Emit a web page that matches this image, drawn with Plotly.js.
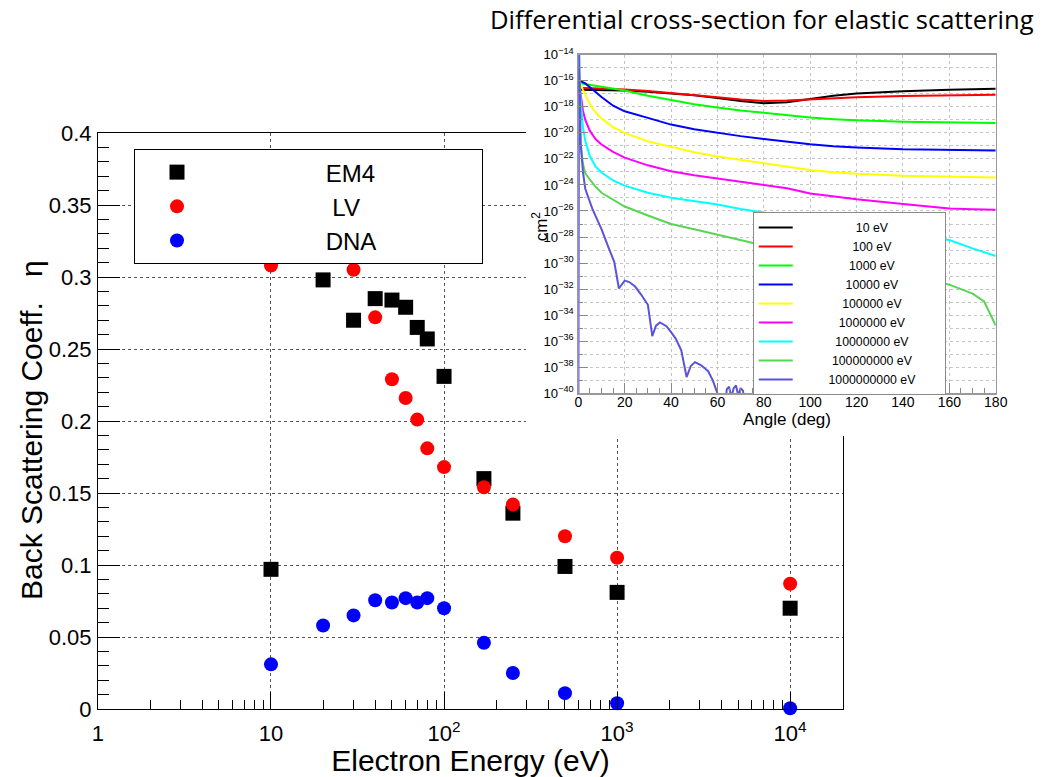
<!DOCTYPE html>
<html>
<head>
<meta charset="utf-8">
<script src="https://cdn.plot.ly/plotly-3.0.1.min.js"></script>
<style>
  html, body { margin: 0; padding: 0; background: #ffffff; }
  #chart { width: 1042px; height: 777px; }
</style>
</head>
<body>
<div id="chart"></div>
<script>
// ---------------- Main plot data: back scattering coefficient ----------------
const energyEM4 = [10, 20, 30, 40, 50, 60, 70, 80, 100, 170, 250, 500, 1000, 10000];
const etaEM4    = [0.097, 0.298, 0.270, 0.285, 0.284, 0.279, 0.265, 0.257, 0.231, 0.160, 0.136, 0.099, 0.081, 0.070];

const energyLV  = [10, 30, 40, 50, 60, 70, 80, 100, 170, 250, 500, 1000, 10000];
const etaLV     = [0.308, 0.305, 0.272, 0.229, 0.216, 0.201, 0.181, 0.168, 0.154, 0.142, 0.120, 0.105, 0.087];

const energyDNA = [10, 20, 30, 40, 50, 60, 70, 80, 100, 170, 250, 500, 1000, 10000];
const etaDNA    = [0.031, 0.058, 0.065, 0.0755, 0.074, 0.077, 0.074, 0.077, 0.070, 0.046, 0.025, 0.011, 0.004, 0.0005];

const mainTickVals = [1, 10, 100, 1000, 10000];
const mainTickText = ['1', '10', '10<sup>2</sup>', '10<sup>3</sup>', '10<sup>4</sup>'];

// ---------------- Inset data: differential cross-section (cm^2) vs angle ----------------
const angle = [0, 0.5, 1, 2, 3, 5, 7.5, 10, 15, 20, 30, 40, 50, 60, 70, 80, 90, 100, 110, 120, 140, 160, 170, 175, 180];

const dcs10eV = [2.0e-17, 2.0e-17, 2.0e-17, 2.0e-17, 2.0e-17, 2.0e-17, 2.0e-17, 1.9e-17, 1.86e-17, 1.78e-17, 1.41e-17, 1.07e-17, 7.6e-18, 4.8e-18, 2.8e-18, 1.9e-18, 2.2e-18, 4.0e-18, 7.1e-18, 1.07e-17, 1.58e-17, 2.0e-17, 2.2e-17, 2.3e-17, 2.4e-17];
const dcs100eV = [3.5e-17, 3.2e-17, 3.0e-17, 2.8e-17, 2.75e-17, 2.7e-17, 2.6e-17, 2.5e-17, 2.3e-17, 2.1e-17, 1.6e-17, 1.17e-17, 8.3e-18, 5.5e-18, 3.6e-18, 2.8e-18, 3.0e-18, 3.8e-18, 4.7e-18, 5.5e-18, 6.6e-18, 7.6e-18, 7.9e-18, 8.1e-18, 8.3e-18];
const dcs1keV = [7.9e-17, 7.1e-17, 6.3e-17, 6.0e-17, 5.6e-17, 4.9e-17, 4.3e-17, 3.6e-17, 2.6e-17, 1.8e-17, 7.1e-18, 3.2e-18, 1.6e-18, 8.9e-19, 5.2e-19, 3.5e-19, 2.2e-19, 1.5e-19, 1.12e-19, 9.1e-20, 7.1e-20, 6.0e-20, 5.8e-20, 5.6e-20, 5.6e-20];
const dcs10keV = [1.12e-16, 1.0e-16, 8.9e-17, 7.9e-17, 6.3e-17, 3.2e-17, 1.26e-17, 5.6e-18, 1.2e-18, 4.5e-19, 1.41e-19, 4.3e-20, 1.9e-20, 1.0e-20, 5.6e-21, 3.4e-21, 2.1e-21, 1.32e-21, 9.5e-22, 7.6e-22, 5.6e-22, 4.8e-22, 4.6e-22, 4.5e-22, 4.5e-22];
const dcs100keV = [1.41e-16, 1.0e-16, 5.6e-17, 2.0e-17, 7.9e-18, 1.58e-18, 3.5e-19, 1.26e-19, 2.8e-20, 1.0e-20, 2.2e-21, 7.9e-22, 3.2e-22, 1.51e-22, 8.3e-23, 4.7e-23, 2.5e-23, 1.41e-23, 9.5e-24, 7.1e-24, 5.0e-24, 4.2e-24, 3.9e-24, 3.8e-24, 3.7e-24];
const dcs1MeV = [1.78e-16, 4.0e-17, 7.9e-18, 5.0e-19, 1.0e-19, 1.41e-20, 3.2e-21, 1.26e-21, 3.5e-22, 1.26e-22, 3.2e-23, 1.12e-23, 5.6e-24, 3.2e-24, 1.78e-24, 1.07e-24, 5.6e-25, 2.2e-25, 1.26e-25, 7.9e-26, 3.5e-26, 1.58e-26, 1.38e-26, 1.32e-26, 1.26e-26];
const dcs10MeV = [1.0e-14, 1.58e-16, 3.2e-18, 2.5e-20, 2.5e-21, 1.58e-22, 2.5e-23, 8.9e-24, 2.2e-24, 8.9e-25, 2.5e-25, 1.05e-25, 5.6e-26, 3.2e-26, 1.41e-26, 7.9e-27, 4.0e-27, 2.0e-27, 1.12e-27, 6.3e-28, 2.0e-28, 5.9e-29, 1.35e-29, 7.1e-30, 3.5e-30];
const dcs100MeV = [1.0e-15, 1.58e-19, 1.58e-21, 4.0e-23, 7.9e-24, 2.5e-24, 7.1e-25, 2.5e-25, 7.1e-26, 2.2e-26, 4.5e-27, 1.0e-27, 4.0e-28, 1.58e-28, 5.6e-29, 2.2e-29, 1.0e-29, 4.5e-30, 2.0e-30, 8.9e-31, 1.58e-31, 2.2e-32, 4.5e-33, 1.12e-33, 1.58e-35];

const angle1GeV = [0, 0.3, 1, 2, 3, 4.5, 6, 8, 10, 13, 15.5, 17.5, 20, 22, 24.5, 27, 30, 31.9, 33.5, 35.2, 38, 40, 42, 44.4, 46.7, 48.5, 50.3, 53, 56, 58, 60, 61.5, 63, 64, 65, 66, 67, 68, 69, 70, 71, 72];
const dcs1GeV = [1.0e-45, 1.0e-13, 1.58e-21, 1.0e-23, 5.0e-25, 7.9e-26, 1.58e-26, 2.5e-27, 4.0e-28, 1.58e-29, 1.26e-30, 1.12e-32, 4.5e-32, 3.5e-32, 1.58e-32, 4.0e-33, 6.3e-34, 2.5e-36, 1.58e-35, 2.8e-35, 1.41e-35, 5.0e-36, 1.58e-36, 2.0e-37, 1.78e-39, 1.26e-38, 2.5e-38, 1.41e-38, 5.0e-39, 1.0e-39, 1.0e-40, 1.0e-41, 1.0e-42, 2.0e-40, 3.2e-40, 5.0e-41, 2.5e-40, 4.0e-40, 6.3e-41, 2.5e-40, 1.58e-40, 1.0e-41];

const insetNames = ['10 eV', '100 eV', '1000 eV', '10000 eV', '100000 eV', '1000000 eV', '10000000 eV', '100000000 eV', '1000000000 eV'];
const insetColors = ['#000000', '#ff0000', '#00ff00', '#0000ff', '#ffff00', '#ff00ff', '#00ffff', '#59d454', '#5954d9'];
const insetX = [angle, angle, angle, angle, angle, angle, angle, angle, angle1GeV];
const insetY = [dcs10eV, dcs100eV, dcs1keV, dcs10keV, dcs100keV, dcs1MeV, dcs10MeV, dcs100MeV, dcs1GeV];

// ---------------- Build traces ----------------
const FONT = 'Liberation Sans, Arial, Helvetica, sans-serif';
const NB = '\u00a0';
function pad(n) { return NB.repeat(n); }

const traces = [];
traces.push({
  type: 'scatter', mode: 'markers', name: pad(16) + 'EM4' + pad(15), legendgroup: 'a',
  x: energyEM4, y: etaEM4, xaxis: 'x', yaxis: 'y', cliponaxis: false,
  marker: { symbol: 'square', size: 15, color: '#000000' }
});
traces.push({
  type: 'scatter', mode: 'markers', name: pad(17) + 'LV' + pad(15), legendgroup: 'b',
  x: energyLV, y: etaLV, xaxis: 'x', yaxis: 'y', cliponaxis: false,
  marker: { symbol: 'circle', size: 14, color: '#ff0000' }
});
traces.push({
  type: 'scatter', mode: 'markers', name: pad(16) + 'DNA' + pad(15), legendgroup: 'c',
  x: energyDNA, y: etaDNA, xaxis: 'x', yaxis: 'y', cliponaxis: false,
  marker: { symbol: 'circle', size: 14, color: '#0000ff' }
});
// empty subplot used as the white backing of the inset figure
traces.push({ type: 'scatter', mode: 'markers', x: [], y: [], xaxis: 'x2', yaxis: 'y2', showlegend: false, hoverinfo: 'skip' });

for (let i = 0; i < insetNames.length; i++) {
  traces.push({
    type: 'scatter', mode: 'lines', name: pad(17 - i) + insetNames[i] + pad(7),
    x: insetX[i], y: insetY[i], xaxis: 'x3', yaxis: 'y3', legend: 'legend2',
    line: { color: insetColors[i], width: 2 }
  });
}

const gridDot = { showgrid: true, gridcolor: '#555555', griddash: 'dot', gridwidth: 1 };

const layout = {
  width: 1042, height: 777,
  margin: { l: 0, r: 0, t: 0, b: 0 },
  paper_bgcolor: '#ffffff', plot_bgcolor: '#ffffff',
  font: { family: FONT, color: '#000000' },
  showlegend: true,
  xaxis: Object.assign({
    type: 'log', range: [0, 4.3054], domain: [0.0940, 0.8090], anchor: 'y',
    tickmode: 'array', tickvals: mainTickVals, ticktext: mainTickText,
    ticks: 'inside', ticklen: 17, tickwidth: 1, tickcolor: '#000000',
    showline: true, linecolor: '#000000', linewidth: 1, mirror: true, zeroline: false,
    tickfont: { size: 22, family: FONT }, ticklabelstandoff: 5,
    minor: { dtick: 'D1', ticks: 'inside', ticklen: 9, tickcolor: '#000000', showgrid: false },
    title: { text: 'Electron Energy (eV)', font: { size: 30, family: FONT }, standoff: 5 }
  }, gridDot),
  yaxis: Object.assign({
    range: [0, 0.4], domain: [0.0875, 0.8288], anchor: 'x',
    tick0: 0, dtick: 0.05,
    ticks: 'inside', ticklen: 22, tickwidth: 1, tickcolor: '#000000',
    showline: true, linecolor: '#000000', linewidth: 1, mirror: true, zeroline: false,
    tickfont: { size: 22, family: FONT }, ticklabelstandoff: 1,
    minor: { dtick: 0.01, ticks: 'inside', ticklen: 11, tickcolor: '#000000', showgrid: false }
  }, gridDot),
  // invisible white backing subplot
  xaxis2: { domain: [0.5048, 1], anchor: 'y2', range: [0, 1], showgrid: false, showline: false, zeroline: false, showticklabels: false, ticks: '' },
  yaxis2: { domain: [0.4389, 1], anchor: 'x2', range: [0, 1], showgrid: false, showline: false, zeroline: false, showticklabels: false, ticks: '' },
  // inset
  xaxis3: {
    domain: [0.5550, 0.9556], anchor: 'y3', range: [0, 180], tick0: 0, dtick: 20,
    ticks: 'inside', ticklen: 10, tickcolor: '#888888', tickwidth: 1,
    showline: true, linecolor: '#999999', linewidth: 1.5, mirror: true, zeroline: false,
    showgrid: true, gridcolor: '#c4c4c4', griddash: 'dot', gridwidth: 1,
    minor: { dtick: 5, ticks: 'inside', ticklen: 5, tickcolor: '#888888', showgrid: false },
    tickfont: { size: 14, family: FONT }, ticklabelstandoff: -5,
    title: { text: 'Angle (deg)', font: { size: 17, family: FONT }, standoff: 2 }
  },
  yaxis3: {
    type: 'log', domain: [0.4938, 0.9296], anchor: 'x3', range: [-40, -14],
    tick0: 0, dtick: 2, exponentformat: 'power', showexponent: 'all',
    ticks: 'inside', ticklen: 10, tickcolor: '#888888', tickwidth: 1,
    showline: true, linecolor: '#999999', linewidth: 1.5, mirror: true, zeroline: false,
    showgrid: true, gridcolor: '#c4c4c4', griddash: 'dot', gridwidth: 1,
    minor: { dtick: 1, ticks: 'inside', ticklen: 5, tickcolor: '#888888', showgrid: true, gridcolor: '#c4c4c4', griddash: 'dot', gridwidth: 1 },
    tickfont: { size: 10.5, family: FONT }, ticklabelstandoff: 1
  },
  legend: {
    x: 0.1286, y: 0.8082, xanchor: 'left', yanchor: 'top',
    bgcolor: '#ffffff', bordercolor: '#000000', borderwidth: 1,
    font: { size: 24, family: FONT, color: '#000000' },
    itemwidth: 74, traceorder: 'grouped', tracegroupgap: 0
  },
  legend2: {
    x: 0.7224, y: 0.7272, xanchor: 'left', yanchor: 'top',
    bgcolor: '#ffffff', bordercolor: '#8a8a8a', borderwidth: 1,
    font: { size: 12.3, family: FONT, color: '#000000' },
    itemwidth: 34, tracegroupgap: 0
  },
  annotations: [{
    text: 'Differential cross-section for elastic scattering',
    xref: 'paper', yref: 'paper', x: 0.7313, y: 0.9743, xanchor: 'center', yanchor: 'middle',
    showarrow: false, font: { size: 25.6, family: 'Open Sans, sans-serif', color: '#000000' }
  }, {
    text: 'Back Scattering Coeff.   \u03b7',
    xref: 'paper', yref: 'paper', x: 0.0307, y: 0.4466, xanchor: 'center', yanchor: 'middle',
    textangle: -90, showarrow: false, font: { size: 30, family: FONT, color: '#000000' }
  }, {
    text: 'cm<sup>2</sup>',
    xref: 'paper', yref: 'paper', x: 0.5185, y: 0.7091, xanchor: 'center', yanchor: 'middle',
    textangle: -90, showarrow: false, font: { size: 17, family: FONT, color: '#000000' }
  }]
};

Plotly.newPlot('chart', traces, layout, { staticPlot: true, displayModeBar: false });
</script>
</body>
</html>
